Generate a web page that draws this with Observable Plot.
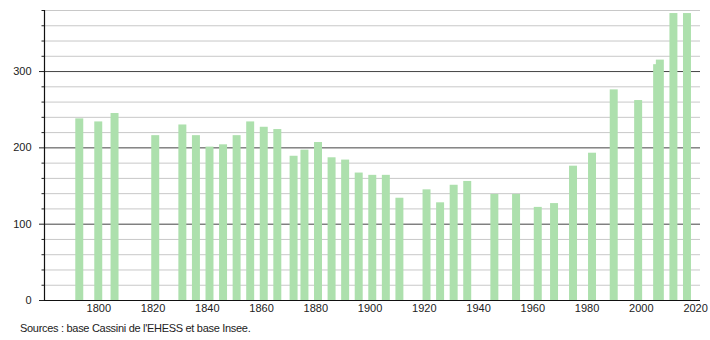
<!DOCTYPE html>
<html>
<head>
<meta charset="utf-8">
<script src="https://cdn.jsdelivr.net/npm/d3@7"></script>
<script src="https://cdn.jsdelivr.net/npm/@observablehq/plot@0.6"></script>
<style>
  html, body { margin: 0; padding: 0; background: #fff; }
  #wrap { position: relative; width: 710px; height: 340px; font-family: "Liberation Sans", Arial, sans-serif; }
  #caption { position: absolute; left: 20px; top: 322px; font-size: 11px; color: #222; letter-spacing: -0.3px; }
</style>
</head>
<body>
<div id="wrap">
  <div id="chart"></div>
  <div id="caption">Sources : base Cassini de l'EHESS et base Insee.</div>
</div>
<script>
const years = [1793,1800,1806,1821,1831,1836,1841,1846,1851,1856,1861,1866,1872,1876,1881,1886,1891,1896,1901,1906,1911,1921,1926,1931,1936,1946,1954,1962,1968,1975,1982,1990,1999,2006,2007,2012,2017];
const population = [238,234,245,216,230,216,201,204,216,234,227,224,189,197,207,187,184,167,164,164,134,145,128,151,156,139,139,122,127,176,193,276,262,309,315,376,376];
const xTicks = [1800,1820,1840,1860,1880,1900,1920,1940,1960,1980,2000,2020];
const yMajor = [0,100,200,300];
const yMinor = [20,40,60,80,120,140,160,180,220,240,260,280,320,340,360,380];

const data = years.map((y, i) => ({year: y, pop: population[i]}));
const halfWidth = 1.47;

const chart = Plot.plot({
  width: 710,
  height: 318,
  marginLeft: 44,
  marginRight: 10,
  marginTop: 10,
  marginBottom: 18,
  style: {fontFamily: "'Liberation Sans', Arial, sans-serif", fontSize: "11px", color: "#222", background: "#fff"},
  x: {domain: [1780, 2021.8], axis: null},
  y: {domain: [0, 380], axis: null},
  marks: [
    Plot.ruleY(yMinor, {stroke: "#c8c8c8", strokeWidth: 1}),
    Plot.ruleY(yMajor.filter(d => d > 0), {stroke: "#444", strokeWidth: 1}),
    Plot.rectY(data, {x1: d => d.year - halfWidth, x2: d => d.year + halfWidth, y: "pop", fill: "#ade0ad"}),
    Plot.ruleY([0], {stroke: "#111", strokeWidth: 1.2}),
    Plot.ruleX([1780], {y1: 0, y2: 380, stroke: "#111", strokeWidth: 1.2}),
    Plot.axisY({ticks: yMinor, tickSize: 2.5, tickFormat: () => "", label: null, stroke: "#222"}),
    Plot.axisY({ticks: yMajor, tickSize: 5, tickPadding: 8, label: null, stroke: "#222", fill: "#222"}),
    Plot.axisX({ticks: xTicks, tickSize: 0, tickPadding: 4, label: null, tickFormat: d => String(d), fill: "#222"})
  ]
});
document.getElementById("chart").appendChild(chart);
</script>
</body>
</html>
